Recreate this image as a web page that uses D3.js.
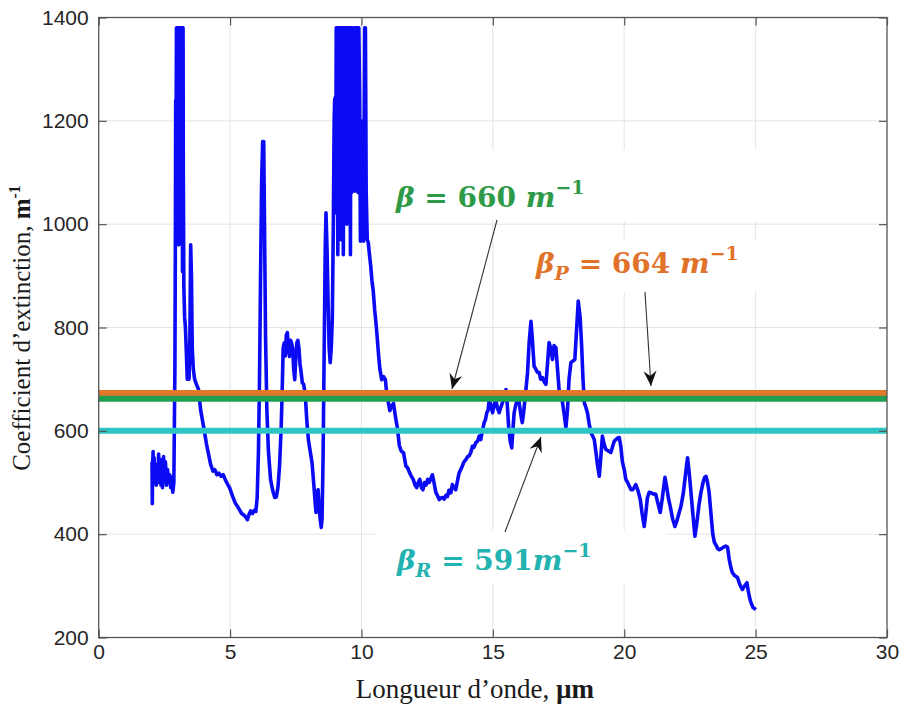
<!DOCTYPE html>
<html><head><meta charset="utf-8">
<script src="https://cdn.jsdelivr.net/npm/d3@7"></script>
<style>body{margin:0;background:#fff}svg{display:block}</style>
</head><body>
<svg id="c" width="900" height="708"></svg>
<script>
// ---- data ----
const xTicks = [0, 5, 10, 15, 20, 25, 30];
const yTicks = [200, 400, 600, 800, 1000, 1200, 1400];
const wavelength = [2.03,2.04,2.05,2.07,2.09,2.11,2.13,2.16,2.19,2.22,2.25,2.28,2.31,2.34,2.37,2.40,2.43,2.47,2.50,2.54,2.58,2.62,2.66,2.70,2.74,2.78,2.82,2.86,
2.90,2.92,2.93,2.95,2.96,2.98,3.00,3.02,3.03,3.05,3.07,3.09,3.10,3.12,3.14,3.16,3.17,3.19,3.21,3.22,3.24,3.27,3.30,3.33,3.37,3.41,3.44,3.47,3.50,3.53,3.56,3.60,3.65,3.72,3.80,3.88,3.95,4.02,4.10,4.18,4.26,4.35,4.42,4.50,4.58,4.66,4.74,4.82,4.90,4.98,5.05,5.12,5.20,5.28,5.36,5.44,5.52,5.60,5.66,5.72,5.78,5.85,5.92,5.98,
6.03,6.08,6.12,6.16,6.20,6.24,6.28,6.31,6.35,6.40,6.46,6.54,6.62,6.70,6.76,6.82,6.88,6.94,6.98,7.02,7.06,7.10,7.14,7.18,7.22,7.26,7.30,7.34,7.38,7.42,7.46,7.50,7.54,7.58,7.62,7.66,7.70,7.75,7.80,7.86,7.92,7.98,8.05,8.12,8.18,8.24,8.27,8.31,8.35,8.39,8.43,8.47,8.50,8.54,8.58,8.62,8.65,8.69,8.73,8.77,8.81,8.85,8.89,8.93,8.96,8.98,
9.00,9.02,9.04,9.06,9.08,9.10,9.12,9.14,9.16,9.18,9.20,9.22,9.24,9.26,9.28,9.31,9.33,9.35,9.37,9.39,9.41,9.44,9.46,9.48,9.50,9.52,9.55,9.58,9.60,9.62,9.64,9.67,9.70,9.73,9.76,9.78,9.80,9.83,9.86,9.88,9.90,9.93,9.96,9.99,10.02,10.05,10.08,10.12,10.15,10.18,10.22,10.26,10.30,10.35,10.40,10.45,10.50,10.55,10.60,10.65,10.70,10.77,10.84,10.91,10.96,
11.02,11.08,11.14,11.22,11.30,11.37,11.44,11.52,11.60,11.69,11.76,11.83,11.90,11.97,12.04,12.10,12.16,12.22,12.28,12.34,12.40,12.46,12.52,12.58,12.64,12.70,12.76,12.83,12.90,12.96,13.02,13.08,13.15,13.21,13.27,13.33,13.40,13.46,13.52,13.59,13.66,13.72,13.78,13.84,13.90,13.97,14.04,14.10,14.16,14.22,14.28,14.35,14.42,14.48,14.54,14.60,14.67,14.72,14.77,14.82,14.86,14.92,14.99,
15.05,15.11,15.17,15.24,15.30,15.37,15.44,15.50,15.55,15.60,15.66,15.72,15.76,15.81,15.87,15.94,16.00,16.07,16.12,16.17,16.22,16.26,16.32,16.38,16.45,16.50,16.57,16.63,16.70,16.76,16.82,16.89,16.95,17.02,17.08,17.14,17.20,17.27,17.33,17.40,17.46,17.52,17.58,17.65,17.72,17.78,17.84,17.90,17.97,18.04,18.12,18.18,18.25,18.32,18.38,18.43,18.48,18.54,18.60,18.66,18.73,18.80,18.86,18.92,18.98,
19.05,19.11,19.17,19.23,19.30,19.37,19.43,19.49,19.56,19.62,19.68,19.75,19.81,19.87,19.93,20.00,20.06,20.13,20.20,20.26,20.32,20.38,20.44,20.52,20.61,20.68,20.76,20.82,20.88,20.95,21.02,21.10,21.20,21.28,21.37,21.45,21.55,21.62,21.68,21.75,21.84,21.93,22.00,22.08,22.16,22.25,22.33,22.41,22.47,22.54,22.61,22.69,22.76,22.84,22.92,
23.00,23.06,23.11,23.17,23.23,23.30,23.37,23.43,23.50,23.56,23.62,23.70,23.78,23.86,23.93,24.00,24.06,24.12,24.20,24.31,24.38,24.44,24.50,24.58,24.67,24.72,24.78,24.82,24.90,24.96,25.01];
const extinction = [540,459,530,560,505,548,500,535,495,520,500,555,510,545,495,530,490,550,505,540,495,525,500,515,490,510,481,500,
720,1000,1240,1240,1380,1000,1380,1240,1380,960,1380,1100,1380,1240,1380,1000,1380,908,1380,1100,880,820,800,760,700,750,700,780,960,900,760,720,700,690,680,640,620,600,575,555,535,522,525,515,518,512,515,505,497,490,480,470,460,454,447,440,437,433,428,438,445,440,446,444,
470,560,700,900,1080,1160,1160,1000,780,640,560,506,485,471,472,490,530,600,670,760,770,745,785,790,760,744,775,770,760,720,699,740,770,775,760,730,715,693,690,670,620,583,560,538,500,460,442,480,486,450,428,413,430,550,751,950,1022,950,850,760,732,760,815,1000,1200,1240,
1245,1022,1380,1061,1380,941,1380,1245,1380,1061,1380,970,1380,1061,1380,941,1380,1100,1380,1061,1380,1000,1380,1150,1380,1061,1380,941,1380,1061,1380,1100,1380,1064,1380,1193,1380,1064,1380,1061,1380,1245,967,1000,970,1200,967,1380,1380,1061,970,964,943,920,890,870,835,810,780,747,720,699,705,699,672,
655,639,648,653,625,605,572,560,558,532,528,519,512,506,495,490,500,506,490,486,500,495,506,500,508,515,500,481,474,467,470,471,468,475,473,485,480,496,490,486,505,519,525,532,540,544,550,552,558,570,568,577,580,590,583,600,616,622,635,640,661,650,635,
650,661,645,635,645,655,665,680,650,609,580,567,600,635,650,661,655,630,616,635,660,680,713,770,812,780,725,720,713,713,700,703,695,690,730,771,760,738,765,761,720,680,670,655,630,606,640,700,732,735,738,790,851,820,764,700,655,645,635,615,597,590,583,560,535,
512,550,590,575,564,562,560,558,570,580,583,586,587,570,540,525,506,500,492,486,486,490,496,485,467,440,415,440,470,481,480,478,477,460,442,470,510,490,470,454,430,415,425,440,454,480,515,548,520,481,440,396,420,455,481,
500,510,512,500,481,440,400,384,378,372,370,372,375,377,375,350,335,325,320,316,305,298,293,300,306,290,275,268,258,256,254];
// horizontal reference levels (as drawn)
const levelNames = ["betaP", "beta", "betaR"];
const levelValues = [673, 662, 600];
const levelColors = ["#e07a2a", "#1f9f4f", "#2ec5c5"];

// ---- layout ----
const svg = d3.select("#c");
const L = 98.7, R = 887, T = 17.5, B = 637.5;
const x = d3.scaleLinear().domain([0, 30]).range([L, R]);
const y = d3.scaleLinear().domain([200, 1400]).range([B, T]);
svg.append("rect").attr("width", 900).attr("height", 708).attr("fill", "#fff");

// grid
const g = svg.append("g");
g.selectAll(".vg").data(xTicks.slice(1, -1)).join("line")
  .attr("x1", d => x(d)).attr("x2", d => x(d)).attr("y1", T).attr("y2", B)
  .attr("stroke", "#e3e3e3").attr("stroke-width", 1);
g.selectAll(".hg").data(yTicks.slice(1, -1)).join("line")
  .attr("x1", L).attr("x2", R).attr("y1", d => y(d)).attr("y2", d => y(d))
  .attr("stroke", "#e3e3e3").attr("stroke-width", 1);

// white label boxes covering grid
const boxes = [[382, 150, 375, 71], [525, 240, 235, 52], [377, 530, 290, 53]];
svg.selectAll(".bx").data(boxes).join("rect")
  .attr("x", d => d[0]).attr("y", d => d[1]).attr("width", d => d[2]).attr("height", d => d[3])
  .attr("fill", "#fff");

// blue curve
const pts = wavelength.map((w, i) => [w, extinction[i]]);
svg.append("path").datum(pts)
  .attr("d", d3.line().x(d => x(d[0])).y(d => y(d[1])))
  .attr("fill", "none").attr("stroke", "#0a0af5").attr("stroke-width", 3.6).attr("stroke-linejoin", "round");

// reference lines
svg.selectAll(".lv").data(levelValues).join("line")
  .attr("x1", L).attr("x2", R).attr("y1", d => y(d)).attr("y2", d => y(d))
  .attr("stroke", (d, i) => levelColors[i]).attr("stroke-width", 6);

// axes (box with inner ticks)
const axC = "#555";
svg.append("rect").attr("x", L).attr("y", T).attr("width", R - L).attr("height", B - T)
  .attr("fill", "none").attr("stroke", axC).attr("stroke-width", 1.3);
const fmt = d3.format("d");
const bx = d3.axisBottom(x).tickValues(xTicks).tickSize(-8).tickPadding(7).tickFormat(fmt);
const by = d3.axisLeft(y).tickValues(yTicks).tickSize(-8).tickPadding(10).tickFormat(fmt);
const tx = d3.axisTop(x).tickValues(xTicks).tickSize(-8).tickFormat("");
const ry = d3.axisRight(y).tickValues(yTicks).tickSize(-8).tickFormat("");
function style(sel) {
  sel.select(".domain").remove();
  sel.selectAll(".tick line").attr("stroke", axC).attr("stroke-width", 1.2);
  sel.selectAll(".tick text").attr("fill", "#262626").attr("font-size", 21)
    .attr("font-family", "'Liberation Sans', Arial, sans-serif");
}
svg.append("g").attr("transform", `translate(0,${B})`).call(bx).call(style);
svg.append("g").attr("transform", `translate(${L},0)`).call(by).call(style);
svg.append("g").attr("transform", `translate(0,${T})`).call(tx).call(style);
svg.append("g").attr("transform", `translate(${R},0)`).call(ry).call(style);

// axis titles
const serif = "'Liberation Serif', 'Times New Roman', serif";
const xt = svg.append("text").attr("x", 475).attr("y", 698).attr("text-anchor", "middle")
  .attr("font-family", serif).attr("font-size", 27).attr("fill", "#1a1a1a");
xt.append("tspan").text("Longueur d\u2019onde, ");
xt.append("tspan").attr("font-weight", "bold").text("\u00b5m");
const yt = svg.append("text").attr("transform", "translate(30,328) rotate(-90)").attr("text-anchor", "middle")
  .attr("font-family", serif).attr("font-size", 25).attr("fill", "#1a1a1a");
yt.append("tspan").text("Coefficient d\u2019extinction, ");
yt.append("tspan").attr("font-weight", "bold").text("m");
yt.append("tspan").attr("font-weight", "bold").attr("font-size", 16).attr("dy", -10).text("-1");

// arrows
const defs = svg.append("defs");
defs.append("marker").attr("id", "ah").attr("viewBox", "-16 -8 18 16").attr("refX", 0).attr("refY", 0)
  .attr("markerWidth", 18).attr("markerHeight", 16).attr("markerUnits", "userSpaceOnUse").attr("orient", "auto")
  .append("path").attr("d", "M0,0 L-15,-6.5 L-10,0 L-15,6.5 Z").attr("fill", "#111");
const arrows = [[497, 220, 452, 389], [645, 292, 651, 386], [505, 532, 541, 437]];
svg.selectAll(".ar").data(arrows).join("line")
  .attr("x1", d => d[0]).attr("y1", d => d[1]).attr("x2", d => d[2]).attr("y2", d => d[3])
  .attr("stroke", "#333").attr("stroke-width", 1.1).attr("marker-end", "url(#ah)");

// annotation labels
const mathFont = "'DejaVu Serif', 'Liberation Serif', serif";
function label(xp, yp, color, sub, value, gap) {
  const t = svg.append("text").attr("x", xp).attr("y", yp).attr("font-family", mathFont)
    .attr("font-weight", "bold").attr("font-size", 28).attr("fill", color);
  t.append("tspan").attr("font-style", "italic").text("\u03b2");
  if (sub) t.append("tspan").attr("font-style", "italic").attr("font-size", 19).attr("dy", 7).text(sub);
  t.append("tspan").attr("dy", sub ? -7 : 0).text(" = " + value + (gap ? " " : ""));
  t.append("tspan").attr("font-style", "italic").text("m");
  t.append("tspan").attr("font-size", 19).attr("dy", -13).text("\u22121");
}
label(396, 207, "#2e9a47", null, "660", true);
label(536, 273, "#e0722a", "P", "664", true);
label(397, 570, "#22b2b0", "R", "591", false);
</script>
</body></html>
